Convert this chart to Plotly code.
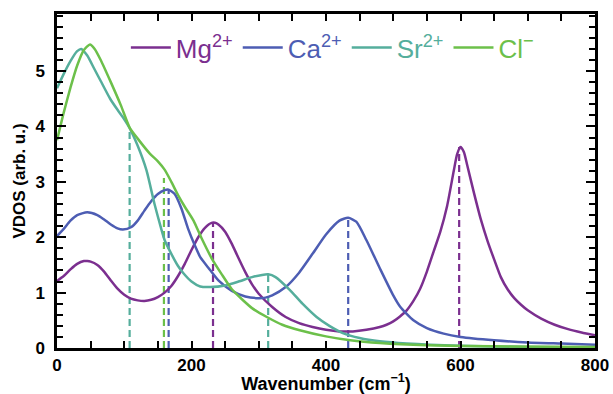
import plotly.graph_objects as go

# ---- data ----
mg_x = [0, 10, 20, 30, 40, 45, 50, 60, 70, 80, 90, 100, 110, 120, 130, 140, 150, 160, 170, 180, 190, 200,
        210, 220, 230, 235, 240, 250, 260, 270, 280, 290, 300, 320, 340, 360, 380, 400, 420, 440, 460, 480,
        490, 500, 510, 520, 530, 540, 550, 560, 570, 580, 590, 595, 600, 605, 610, 620, 630, 640, 650, 660,
        670, 680, 690, 700, 720, 740, 760, 780, 800]
mg_y = [1.21, 1.30, 1.42, 1.52, 1.57, 1.57, 1.56, 1.50, 1.38, 1.22, 1.07, 0.96, 0.89, 0.86, 0.85, 0.87, 0.92, 1.00, 1.12, 1.30, 1.52, 1.77,
        2.00, 2.17, 2.26, 2.26, 2.23, 2.10, 1.88, 1.62, 1.37, 1.15, 0.98, 0.74, 0.56, 0.45, 0.38, 0.33, 0.30, 0.30, 0.33, 0.38,
        0.42, 0.48, 0.57, 0.68, 0.85, 1.07, 1.38, 1.74, 2.10, 2.56, 3.20, 3.50, 3.63, 3.54, 3.30, 2.80, 2.33, 1.94, 1.60, 1.28,
        1.06, 0.90, 0.78, 0.68, 0.53, 0.42, 0.34, 0.28, 0.23]

ca_x = [0, 10, 20, 30, 45, 60, 70, 80, 90, 98, 110, 120, 130, 140, 150, 160, 166, 175, 185, 195, 205, 213, 225, 240,
        260, 280, 300, 310, 320, 340, 360, 380, 400, 420, 433, 445, 460, 480, 500, 510, 530, 550, 575, 600, 650, 700, 750, 800]
ca_y = [2.02, 2.15, 2.30, 2.40, 2.45, 2.40, 2.32, 2.23, 2.16, 2.14, 2.18, 2.30, 2.48, 2.65, 2.78, 2.85, 2.86, 2.78, 2.52, 2.15, 1.85, 1.64, 1.45, 1.22,
        1.03, 0.93, 0.90, 0.91, 0.95, 1.10, 1.36, 1.70, 2.05, 2.30, 2.35, 2.28, 1.95, 1.44, 0.95, 0.75, 0.50, 0.36, 0.26, 0.20, 0.14, 0.10, 0.08, 0.06]

sr_x = [0, 10, 20, 30, 36, 45, 55, 65, 79, 90, 100, 108, 120, 133, 145, 155, 160, 170, 180, 188, 200, 213, 228, 250,
        270, 290, 305, 314, 325, 346, 365, 386, 405, 425, 450, 480, 520, 600, 700, 800]
sr_y = [4.69, 4.95, 5.18, 5.36, 5.40, 5.28, 5.05, 4.82, 4.50, 4.30, 4.13, 3.97, 3.65, 3.21, 2.60, 2.15, 1.95, 1.70, 1.48, 1.35, 1.20, 1.11, 1.10, 1.13,
        1.20, 1.28, 1.32, 1.33, 1.28, 1.05, 0.80, 0.56, 0.40, 0.27, 0.18, 0.12, 0.08, 0.04, 0.02, 0.01]

cl_x = [0, 10, 20, 30, 40, 49, 56, 65, 80, 95, 108, 120, 138, 150, 160, 170, 180, 190, 203, 215, 230, 245, 260, 275,
        290, 312, 335, 361, 400, 436, 480, 550, 650, 800]
cl_y = [3.75, 4.25, 4.70, 5.10, 5.38, 5.48, 5.40, 5.20, 4.80, 4.38, 3.98, 3.78, 3.51, 3.37, 3.22, 3.00, 2.76, 2.55, 2.30, 1.98, 1.62, 1.33, 1.06, 0.88,
        0.72, 0.56, 0.42, 0.32, 0.21, 0.14, 0.09, 0.05, 0.03, 0.02]

peak_x = [108, 159, 166, 232, 314, 433, 598]
peak_y = [3.97, 3.07, 2.86, 2.26, 1.33, 2.35, 3.63]
peak_series = ["Sr", "Cl", "Ca", "Mg", "Sr", "Ca", "Mg"]

x_ticks = [0, 200, 400, 600, 800]
y_ticks = [0, 1, 2, 3, 4, 5]

colors = {"Mg": "#7b2f8f", "Ca": "#4d5db3", "Sr": "#55ae9c", "Cl": "#6cc04a"}
labels = {"Mg": "Mg<sup>2+</sup>", "Ca": "Ca<sup>2+</sup>", "Sr": "Sr<sup>2+</sup>", "Cl": "Cl<sup>−</sup>"}
series = {"Mg": (mg_x, mg_y), "Ca": (ca_x, ca_y), "Sr": (sr_x, sr_y), "Cl": (cl_x, cl_y)}

fig = go.Figure()

# dashed peak markers
for px, py, s in zip(peak_x, peak_y, peak_series):
    fig.add_trace(go.Scatter(x=[px, px], y=[0, py], mode="lines", showlegend=False, hoverinfo="skip",
                             line=dict(color=colors[s], width=2.2, dash="7px,4px")))

for s in ["Mg", "Ca", "Sr", "Cl"]:
    xs, ys = series[s]
    fig.add_trace(go.Scatter(
        x=xs, y=ys, mode="lines",
        name='<span style="color:%s">%s</span>' % (colors[s], labels[s]),
        line=dict(color=colors[s], width=2.5, shape="spline", smoothing=0.6),
    ))

axis_common = dict(
    showline=True, linecolor="black", linewidth=2.5, mirror="ticks",
    ticks="inside", tickcolor="black", tickwidth=1.5,
    showgrid=False, zeroline=False, automargin=False,
    tickfont=dict(family="Liberation Sans, Arial, sans-serif", size=17, color="black", weight="bold"),
)

fig.update_xaxes(
    range=[0, 800], tickvals=x_ticks, ticklen=7,
    minor=dict(dtick=50, tick0=0, ticks="inside", ticklen=7, tickcolor="black", tickwidth=1.5, showgrid=False),
    title=dict(text="<b>Wavenumber (cm<sup>−1</sup>)</b>", standoff=2,
               font=dict(family="Liberation Sans, Arial, sans-serif", size=18, color="black")),
    **axis_common,
)
fig.update_yaxes(
    range=[0, 6.03], tickvals=y_ticks, ticklen=9,
    minor=dict(dtick=0.2, tick0=0, ticks="inside", ticklen=6, tickcolor="black", tickwidth=1.5, showgrid=False),
    title=dict(text="<b>VDOS (arb. u.)</b>", standoff=6,
               font=dict(family="Liberation Sans, Arial, sans-serif", size=17, color="black")),
    ticklabelstandoff=6,
    **axis_common,
)

fig.update_layout(
    width=613, height=394,
    margin=dict(l=57, r=18, t=14, b=46, autoexpand=False),
    paper_bgcolor="white", plot_bgcolor="white",
    legend=dict(orientation="h", x=0.128, y=0.97, xanchor="left", yanchor="top",
                bgcolor="rgba(0,0,0,0)",
                font=dict(family="Liberation Sans, Arial, sans-serif", size=26),
                itemwidth=40, tracegroupgap=0),
    showlegend=True,
)

fig.write_html("out.html")
